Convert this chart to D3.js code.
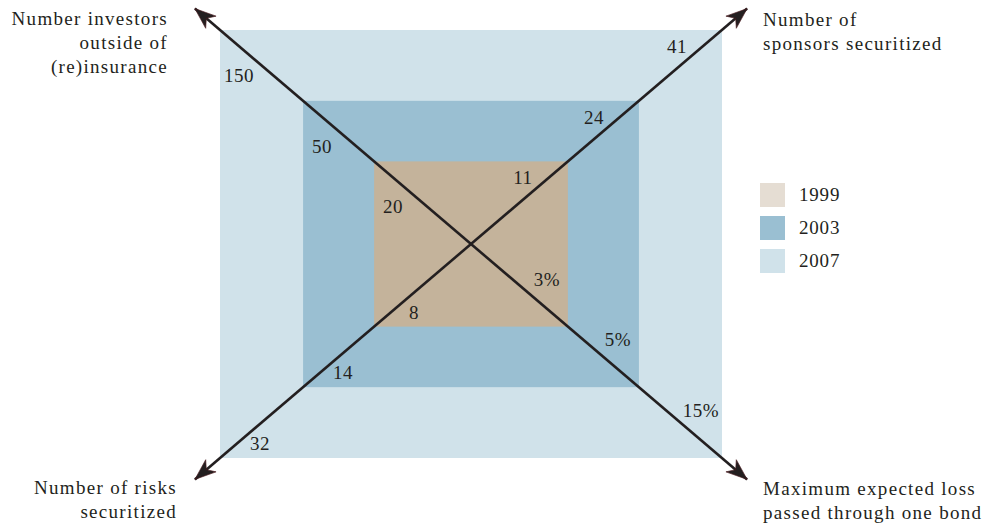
<!DOCTYPE html>
<html>
<head>
<meta charset="utf-8">
<script src="https://cdn.jsdelivr.net/npm/d3@7"></script>
<style>
  html, body { margin: 0; padding: 0; background: #fff; }
  svg text { font-family: "Liberation Serif", "DejaVu Serif", serif; fill: #231f20; }
</style>
</head>
<body>
<svg id="chart" width="987" height="525"></svg>
<script>
// data
const years = ["1999", "2003", "2007"];
const investors = [20, 50, 150];     // upper left
const sponsors = [11, 24, 41];       // upper right
const maxLoss = [3, 5, 15];          // lower right, percent
const risks = [8, 14, 32];           // lower left
const axisTitles = [
  ["Number investors", "outside of", "(re)insurance"],
  ["Number of", "sponsors securitized"],
  ["Maximum expected loss", "passed through one bond"],
  ["Number of risks", "securitized"]
];
const yearColors = ["#c4b39b", "#9abfd2", "#d0e2ea"];
const legendColors = ["#e5ddd3", "#9abfd2", "#d0e2ea"];

const width = 987, height = 525;
const cx = 471, cy = 244;
const halfW = 251, halfH = 214;
const fontSize = 19;

const svg = d3.select("#chart");

// how far out each year's box reaches, as a share of the outer box
const reach = d3.scaleOrdinal().domain(years).range([0.386, 0.669, 1]);
const x = d3.scaleLinear().domain([-1, 1]).range([cx - halfW, cx + halfW]);
const y = d3.scaleLinear().domain([-1, 1]).range([cy - halfH, cy + halfH]);

// boxes, biggest first
const boxes = years.map((yr, i) => ({ year: yr, color: yearColors[i] })).reverse();
svg.append("g").selectAll("rect")
  .data(boxes)
  .join("rect")
  .attr("x", d => x(-reach(d.year)))
  .attr("y", d => y(-reach(d.year)))
  .attr("width", d => x(reach(d.year)) - x(-reach(d.year)))
  .attr("height", d => y(reach(d.year)) - y(-reach(d.year)))
  .attr("fill", d => d.color);

// arrows
const defs = svg.append("defs");
defs.append("marker")
  .attr("id", "arrow")
  .attr("viewBox", "-22 -9 24 18")
  .attr("refX", 0).attr("refY", 0)
  .attr("markerWidth", 24).attr("markerHeight", 18)
  .attr("markerUnits", "userSpaceOnUse")
  .attr("orient", "auto-start-reverse")
  .append("path")
  .attr("d", "M0,0 L-21,-8 L-15,0 L-21,8 Z")
  .attr("fill", "#231f20")
  .attr("stroke", "#4a1a1f")
  .attr("stroke-width", 0.6);

const tipOut = 1.1;
const diagonals = [[-1, -1, 1, 1], [-1, 1, 1, -1]];
svg.append("g").selectAll("line")
  .data(diagonals)
  .join("line")
  .attr("x1", d => x(d[0] * tipOut))
  .attr("y1", d => y(d[1] * tipOut))
  .attr("x2", d => x(d[2] * tipOut))
  .attr("y2", d => y(d[3] * tipOut))
  .attr("stroke", "#231f20")
  .attr("stroke-width", 2.6)
  .attr("marker-start", "url(#arrow)")
  .attr("marker-end", "url(#arrow)");

// value labels near each box corner
const corners = [
  { sx: -1, sy: -1, vals: investors, fmt: d => d, dx: 19, dy: 52 },
  { sx: 1, sy: -1, vals: sponsors, fmt: d => d, dx: -45, dy: 23 },
  { sx: 1, sy: 1, vals: maxLoss, fmt: d => d + "%", dx: -21, dy: -41 },
  { sx: -1, sy: 1, vals: risks, fmt: d => d, dx: 40, dy: -8 }
];
const valueLabels = [];
corners.forEach(c => {
  years.forEach((yr, i) => {
    valueLabels.push({
      x: x(c.sx * reach(yr)) + c.dx,
      y: y(c.sy * reach(yr)) + c.dy,
      text: c.fmt(c.vals[i])
    });
  });
});
svg.append("g").selectAll("text")
  .data(valueLabels)
  .join("text")
  .attr("x", d => d.x)
  .attr("y", d => d.y)
  .attr("text-anchor", "middle")
  .attr("font-size", fontSize)
  .attr("letter-spacing", 0.5)
  .text(d => d.text);

// axis titles
const titlePos = [
  { x: 168, y: 25, anchor: "end" },
  { x: 763, y: 26, anchor: "start" },
  { x: 763, y: 495, anchor: "start" },
  { x: 177, y: 494, anchor: "end" }
];
const titles = svg.append("g").selectAll("text")
  .data(axisTitles)
  .join("text")
  .attr("font-size", fontSize)
  .attr("letter-spacing", 1.3)
  .attr("text-anchor", (d, i) => titlePos[i].anchor)
  .attr("x", (d, i) => titlePos[i].x)
  .attr("y", (d, i) => titlePos[i].y);
titles.selectAll("tspan")
  .data((d, i) => d.map(line => ({ line, x: titlePos[i].x })))
  .join("tspan")
  .attr("x", d => d.x)
  .attr("dy", (d, i) => i === 0 ? 0 : 24)
  .text(d => d.line);

// legend
const legendY = d3.scalePoint().domain(years).range([195, 261]);
const legend = svg.append("g").selectAll("g")
  .data(years)
  .join("g")
  .attr("transform", d => `translate(760, ${legendY(d)})`);
legend.append("rect")
  .attr("x", 0).attr("y", -12)
  .attr("width", 25).attr("height", 24)
  .attr("fill", (d, i) => legendColors[i]);
legend.append("text")
  .attr("x", 39).attr("y", 6)
  .attr("font-size", fontSize)
  .attr("letter-spacing", 0.8)
  .text(d => d);
</script>
</body>
</html>
